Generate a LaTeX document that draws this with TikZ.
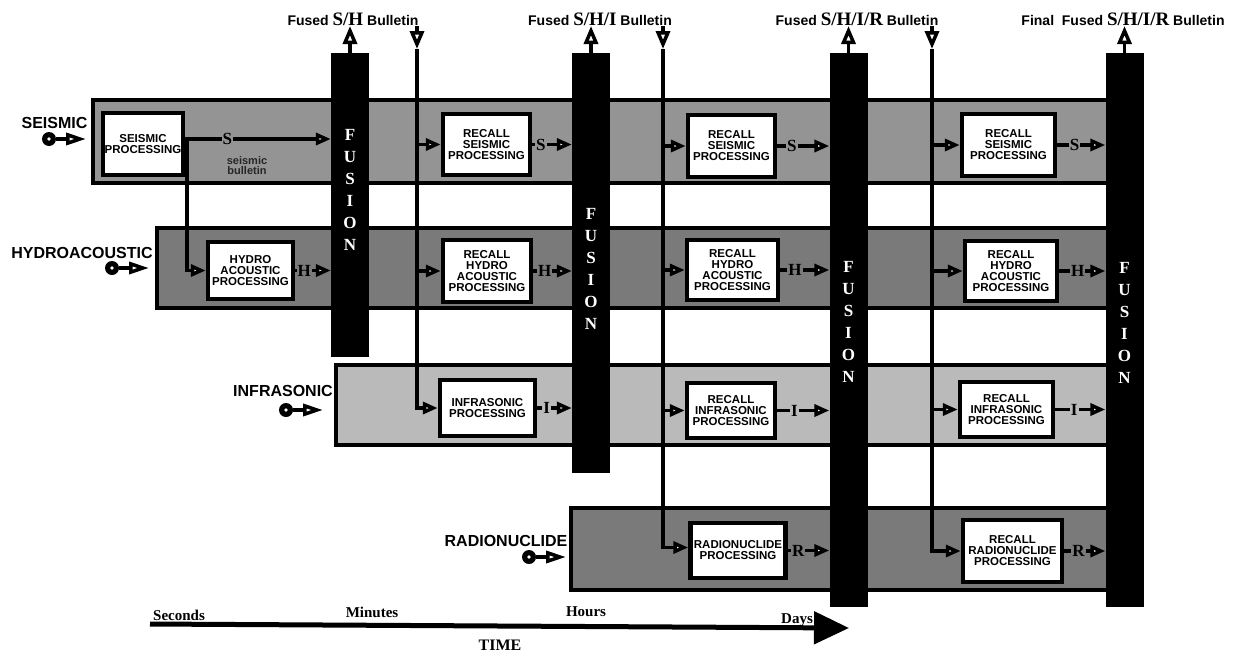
\documentclass[tikz,border=0pt]{standalone}
\usepackage{fontspec}
\setmainfont{Liberation Serif}
\setsansfont{Liberation Sans}
\usetikzlibrary{arrows.meta}
\newcommand\fusedsym{\rmfamily\bfseries\fontsize{19}{19}\selectfont}
\colorlet{bandS}{black!42}
\colorlet{bandH}{black!52}
\colorlet{bandI}{black!27}
\colorlet{bandR}{black!52}
\begin{document}
\begin{tikzpicture}[x=1pt,y=-1pt,
  band/.style={draw=black,line width=3.5pt},
  procbox/.style={draw=black,fill=white,line width=4.5pt,inner sep=0pt,align=center,
    font=\sffamily\bfseries\fontsize{11.5}{11}\selectfont},
  fusionbar/.style={fill=black,draw=none,minimum width=38pt,inner sep=0pt},
  fusionletters/.style={text=white,font=\rmfamily\bfseries\fontsize{17}{22}\selectfont,align=center,inner sep=0pt},
  srclabel/.style={font=\sffamily\bfseries\fontsize{16}{16}\selectfont,inner sep=0pt},
  bulletin/.style={font=\sffamily\bfseries\fontsize{14}{14}\selectfont,inner sep=0pt},
  conn/.style={line width=3.5pt,-{Triangle[length=15pt,width=12pt,fill=white]}},
  feed/.style={line width=3.5pt},
  bigtip/.style={line width=3.5pt,-{Triangle[length=18pt,width=14pt,fill=white]}},
  inarrow/.style={line width=3.5pt,-{Triangle[length=20pt,width=12pt,fill=white]}},
  inputdot/.style={circle,fill=black,minimum size=14pt,inner sep=0pt,
    path picture={\fill[white] (path picture bounding box.center) circle (1.8pt);}},
  rowlabel/.style={font=\rmfamily\bfseries\fontsize{17}{17}\selectfont,inner sep=1pt},
  rowS/.style={rowlabel,fill=bandS},
  rowH/.style={rowlabel,fill=bandH},
  rowI/.style={rowlabel,fill=bandI},
  rowR/.style={rowlabel,fill=bandR},
  timelabel/.style={font=\rmfamily\bfseries\fontsize{15}{15}\selectfont,inner sep=0pt},
]
\path[use as bounding box] (0,0) rectangle (1246,656);

% ---------- bands ----------
\draw[band,fill=bandS] (93,100) rectangle (1110,183);
\draw[band,fill=bandH] (157,228) rectangle (1110,308);
\draw[band,fill=bandI] (336,365) rectangle (1110,445);
\draw[band,fill=bandR] (571,508) rectangle (1110,590);

% ---------- fusion bars ----------
\node[fusionbar,minimum height=304pt] (f1) at (350,205) {};
\node[fusionbar,minimum height=420pt] (f2) at (591,263) {};
\node[fusionbar,minimum height=554pt] (f3) at (848.5,330) {};
\node[fusionbar,minimum height=554pt] (f4) at (1124.5,330) {};
\node[fusionletters] (fl1) at (350,190) {F\\U\\S\\I\\O\\N};
\node[fusionletters] (fl2) at (591,269) {F\\U\\S\\I\\O\\N};
\node[fusionletters] (fl3) at (848.5,322) {F\\U\\S\\I\\O\\N};
\node[fusionletters] (fl4) at (1124.5,323) {F\\U\\S\\I\\O\\N};

% ---------- processing boxes ----------
\node[procbox,minimum width=80pt,minimum height=62pt] (sp) at (143,144) {SEISMIC\\PROCESSING};
\node[procbox,minimum width=85pt,minimum height=57pt] (hp) at (250.5,270.5) {HYDRO\\ACOUSTIC\\PROCESSING};
\node[procbox,minimum width=87pt,minimum height=61pt] (rs1) at (486.5,144.5) {RECALL\\SEISMIC\\PROCESSING};
\node[procbox,minimum width=88pt,minimum height=62pt] (rh1) at (487,271) {RECALL\\HYDRO\\ACOUSTIC\\PROCESSING};
\node[procbox,minimum width=95pt,minimum height=56pt] (ip) at (487.5,408) {INFRASONIC\\PROCESSING};
\node[procbox,minimum width=87pt,minimum height=62pt] (rs2) at (731.5,146) {RECALL\\SEISMIC\\PROCESSING};
\node[procbox,minimum width=91pt,minimum height=60pt] (rh2) at (732.5,270) {RECALL\\HYDRO\\ACOUSTIC\\PROCESSING};
\node[procbox,minimum width=88pt,minimum height=55pt] (ri2) at (731,410.5) {RECALL\\INFRASONIC\\PROCESSING};
\node[procbox,minimum width=95pt,minimum height=55pt] (rp) at (738,550.5) {RADIONUCLIDE\\PROCESSING};
\node[procbox,minimum width=93pt,minimum height=62pt] (rs3) at (1008.5,145) {RECALL\\SEISMIC\\PROCESSING};
\node[procbox,minimum width=92pt,minimum height=60pt] (rh3) at (1011,271) {RECALL\\HYDRO\\ACOUSTIC\\PROCESSING};
\node[procbox,minimum width=93pt,minimum height=55pt] (ri3) at (1006.5,409.5) {RECALL\\INFRASONIC\\PROCESSING};
\node[procbox,minimum width=99pt,minimum height=62pt] (rr3) at (1012.5,551) {RECALL\\RADIONUCLIDE\\PROCESSING};

% ---------- source labels and inputs ----------
\node[srclabel] (lseis) at (54.5,123) {SEISMIC};
\node[srclabel] (lhyd) at (82,253) {HYDROACOUSTIC};
\node[srclabel] (linf) at (283,391) {INFRASONIC};
\node[srclabel] (lrad) at (506,541) {RADIONUCLIDE};
\node[inputdot] (iseis) at (49,139) {};
\coordinate (iseist) at (86,139);
\draw[inarrow] (iseis) -- (iseist);
\node[inputdot] (ihyd) at (112,268) {};
\coordinate (ihydt) at (149,268);
\draw[inarrow] (ihyd) -- (ihydt);
\node[inputdot] (iinf) at (286,410) {};
\coordinate (iinft) at (323,410);
\draw[inarrow] (iinf) -- (iinft);
\node[inputdot] (irad) at (529,557) {};
\coordinate (iradt) at (566,557);
\draw[inarrow] (irad) -- (iradt);

% ---------- bulletins ----------
\node[bulletin] (b1) at (353,19) {Fused {\fusedsym S/H} Bulletin};
\node[bulletin] (b2) at (600,19) {Fused {\fusedsym S/H/I} Bulletin};
\node[bulletin] (b3) at (857,19) {Fused {\fusedsym S/H/I/R} Bulletin};
\node[bulletin] (b4) at (1123,19) {Final\ \ Fused {\fusedsym S/H/I/R} Bulletin};
\coordinate (u1) at (350,26);
\coordinate (u2) at (591,26);
\coordinate (u3) at (848.5,26);
\coordinate (u4) at (1124.5,26);
\draw[bigtip] (f1.north) -- (u1);
\draw[bigtip] (f2.north) -- (u2);
\draw[bigtip] (f3.north) -- (u3);
\draw[bigtip] (f4.north) -- (u4);

% ---------- feeds of fused bulletins ----------
\coordinate (d1) at (417,26);  \coordinate (d1h) at (417,49);
\coordinate (d2) at (663,26);  \coordinate (d2h) at (663,49);
\coordinate (d3) at (932,26);  \coordinate (d3h) at (932,49);
\draw[bigtip] (d1) -- (d1h);
\draw[bigtip] (d2) -- (d2h);
\draw[bigtip] (d3) -- (d3h);
\draw[conn] (d1h) |- (ip.west);
\draw[conn] (d1 |- rs1.west) -- (rs1.west);
\draw[conn] (d1 |- rh1.west) -- (rh1.west);
\draw[conn] (d2h) |- ([yshift=3pt]rp.west);
\draw[conn] (d2 |- rs2.west) -- (rs2.west);
\draw[conn] (d2 |- rh2.west) -- (rh2.west);
\draw[conn] (d2 |- ri2.west) -- (ri2.west);
\draw[conn] (d3h) |- (rr3.west);
\draw[conn] (d3 |- rs3.west) -- (rs3.west);
\draw[conn] (d3 |- rh3.west) -- (rh3.west);
\draw[conn] (d3 |- ri3.west) -- (ri3.west);

% ---------- first stage outputs ----------
\coordinate (spo) at ([yshift=5pt]sp.east);
\coordinate (sb) at (187,139);
\draw[conn] (sb) |- (hp.west);
\draw[conn] (spo) -- node[rowS,pos=0.29] (ls0) {S} (spo -| f1.west);
\node[font=\sffamily\bfseries\fontsize{11}{10}\selectfont,align=center,inner sep=0pt,text=black!85] (sbul) at (247,166) {seismic\\bulletin};
\draw[conn] (hp.east) -- node[rowH,pos=0.25] (lh0) {H} (hp.east -| f1.west);

% ---------- outputs to fusion 2 ----------
\draw[conn] (rs1.east) -- node[rowS,pos=0.22] (ls1) {S} (rs1.east -| f2.west);
\draw[conn] (rh1.east) -- node[rowH,pos=0.3] (lh1) {H} (rh1.east -| f2.west);
\draw[conn] (ip.east) -- node[rowI,pos=0.27] (li1) {I} (ip.east -| f2.west);

% ---------- outputs to fusion 3 ----------
\draw[conn] (rs2.east) -- node[rowS,pos=0.28] (ls2) {S} (rs2.east -| f3.west);
\draw[conn] (rh2.east) -- node[rowH,pos=0.3] (lh2) {H} (rh2.east -| f3.west);
\draw[conn] (ri2.east) -- node[rowI,pos=0.33] (li2) {I} (ri2.east -| f3.west);
\draw[conn] (rp.east) -- node[rowR,pos=0.25] (lr2) {R} (rp.east -| f3.west);

% ---------- outputs to fusion 4 ----------
\draw[conn] (rs3.east) -- node[rowS,pos=0.36] (ls3) {S} (rs3.east -| f4.west);
\draw[conn] (rh3.east) -- node[rowH,pos=0.4] (lh3) {H} (rh3.east -| f4.west);
\draw[conn] (ri3.east) -- node[rowI,pos=0.38] (li3) {I} (ri3.east -| f4.west);
\draw[conn] (rr3.east) -- node[rowR,pos=0.35] (lr3) {R} (rr3.east -| f4.west);

% ---------- time axis ----------
\node[timelabel] (tsec) at (179,615) {Seconds};
\node[timelabel] (tmin) at (372,612) {Minutes};
\node[timelabel] (thrs) at (586,612) {Hours};
\node[timelabel] (tdays) at (797,620) {Days};
\node[timelabel,font=\rmfamily\bfseries\fontsize{16}{16}\selectfont] (ttime) at (500,645) {TIME};
\coordinate (tstart) at (150,624);
\coordinate (tend) at (849,628);
\draw[line width=5pt,-{Triangle[length=35pt,width=32pt]}] (tstart) -- (tend);
\end{tikzpicture}
\end{document}
